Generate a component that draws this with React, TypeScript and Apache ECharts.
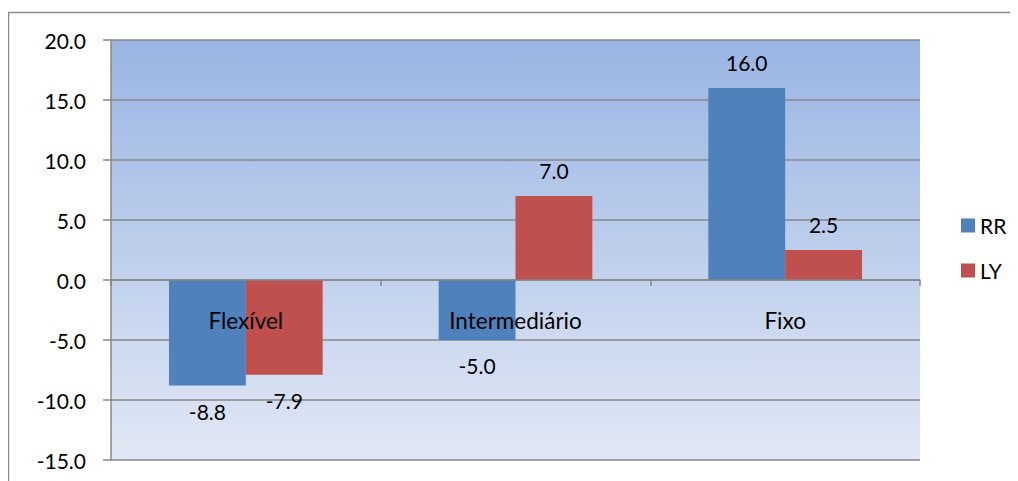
import React, { useEffect, useRef } from "react";
import * as echarts from "echarts";

const categories = ["Flexível", "Intermediário", "Fixo"];
const rrValues = [-8.8, -5.0, 16.0];
const lyValues = [-7.9, 7.0, 2.5];
const seriesNames = ["RR", "LY"];

const FONT = "Lato, 'Liberation Sans', sans-serif";
const FS = 21;

function toData(values: number[]) {
  return values.map((v) => ({
    value: v,
    label: { position: v < 0 ? "bottom" : "top" },
  }));
}

export default function App() {
  const ref = useRef<HTMLDivElement>(null);
  useEffect(() => {
    if (!ref.current) return;
    const chart = echarts.init(ref.current, null, { renderer: "svg" });
    const labelCfg = {
      show: true,
      distance: 15,
      fontFamily: FONT,
      fontSize: FS,
      color: "#000",
      formatter: (p: any) => Number(p.value).toFixed(1),
    };
    chart.setOption({
      animation: false,
      textStyle: { fontFamily: FONT },
      graphic: [
        {
          type: "polyline",
          shape: { points: [[0.5, 480], [0.5, 4.5], [1012, 4.5]] },
          style: { stroke: "#8a8a8a", lineWidth: 1.5, fill: "none" },
          silent: true,
        },
      ],
      legend: {
        orient: "vertical",
        left: 948,
        top: 202,
        itemWidth: 14,
        itemHeight: 14,
        itemGap: 24,
        icon: "rect",
        textStyle: { fontFamily: FONT, fontSize: FS, color: "#000" },
        data: seriesNames,
      },
      grid: {
        left: 103,
        top: 32,
        right: 98,
        bottom: 21,
        containLabel: false,
        outerBoundsMode: "none",
        show: true,
        borderWidth: 0,
        backgroundColor: new echarts.graphic.LinearGradient(0, 0, 0, 1, [
          { offset: 0, color: "#9AB5E3" },
          { offset: 1, color: "#E1E8F5" },
        ]),
      },
      xAxis: {
        type: "category",
        data: categories,
        z: 10,
        axisLine: { onZero: true, lineStyle: { color: "#878787", width: 1.5 } },
        axisTick: { show: true, length: 6, lineStyle: { color: "#878787", width: 1.5 } },
        axisLabel: { margin: -151, fontFamily: FONT, fontSize: 22.5, color: "#000" },
        splitLine: { show: false },
      },
      yAxis: {
        type: "value",
        min: -15,
        max: 20,
        interval: 5,
        axisLine: { show: true, lineStyle: { color: "#878787", width: 1.5 } },
        axisTick: { show: true, length: 8, lineStyle: { color: "#878787", width: 1.5 } },
        axisLabel: {
          margin: 25,
          fontFamily: FONT,
          fontSize: FS,
          color: "#000",
          formatter: (v: number) => v.toFixed(1),
        },
        splitLine: { show: true, lineStyle: { color: "#878787", width: 1.5 } },
        splitArea: { show: false },
      },
      series: [
        {
          name: seriesNames[0],
          type: "bar",
          data: toData(rrValues),
          barGap: "0%",
          barCategoryGap: "43%",
          itemStyle: { color: "#4F81BD" },
          label: labelCfg,
          z: 3,
        },
        {
          name: seriesNames[1],
          type: "bar",
          data: toData(lyValues),
          barGap: "0%",
          barCategoryGap: "43%",
          itemStyle: { color: "#C0504D" },
          label: labelCfg,
          z: 3,
        },
      ],
    });
    return () => chart.dispose();
  }, []);
  return <div ref={ref} style={{ width: 1010, height: 473 }} />;
}
